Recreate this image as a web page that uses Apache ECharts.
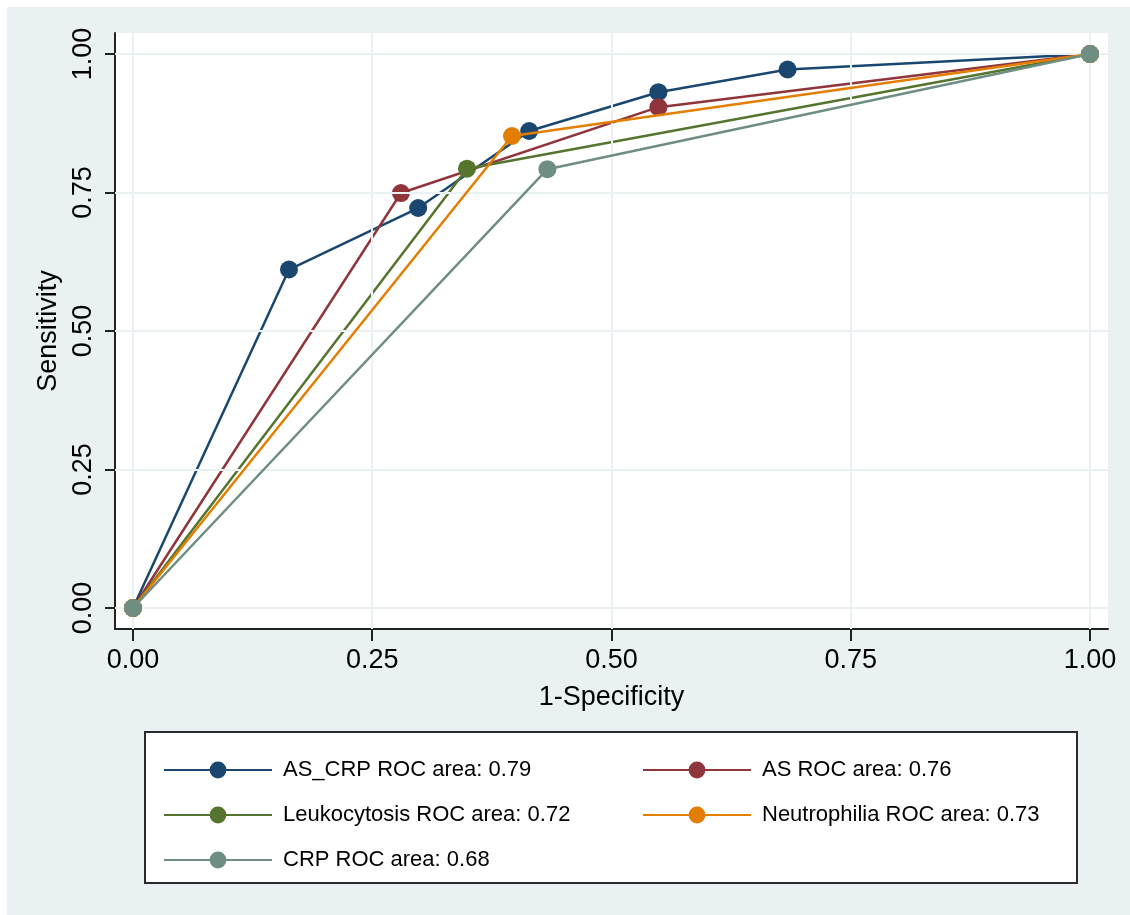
<!DOCTYPE html>
<html>
<head>
<meta charset="utf-8">
<script src="https://cdn.jsdelivr.net/npm/echarts@6/dist/echarts.min.js"></script>
<style>
  html, body { margin: 0; padding: 0; background: #fff; }
  #chart { width: 1130px; height: 915px; }
</style>
</head>
<body>
<div id="chart"></div>
<script>
// ROC curves, values
const tickValues = [0, 0.25, 0.5, 0.75, 1]
const tickLabels = ['0.00', '0.25', '0.50', '0.75', '1.00']

const seriesNames = [
  'AS_CRP ROC area: 0.79',
  'AS ROC area: 0.76',
  'Leukocytosis ROC area: 0.72',
  'Neutrophilia ROC area: 0.73',
  'CRP ROC area: 0.68'
]

const asCrpX = [0, 0.163, 0.298, 0.414, 0.549, 0.684, 1]
const asCrpY = [0, 0.611, 0.722, 0.861, 0.931, 0.972, 1]
const asX = [0, 0.280, 0.549, 1]
const asY = [0, 0.749, 0.904, 1]
const leukX = [0, 0.349, 1]
const leukY = [0, 0.793, 1]
const neutX = [0, 0.396, 1]
const neutY = [0, 0.852, 1]
const crpX = [0, 0.433, 1]
const crpY = [0, 0.792, 1]

// Stata s2color palette
const colors = ['#1A476F', '#90353B', '#55752F', '#E37E00', '#6E8E84']
const bgColor = '#EAF1F3'
const font = '"Liberation Sans", Arial, Helvetica, sans-serif'

const pairs = (xs, ys) => xs.map((x, i) => [x, ys[i]])
const curves = [
  pairs(asCrpX, asCrpY),
  pairs(asX, asY),
  pairs(leukX, leukY),
  pairs(neutX, neutY),
  pairs(crpX, crpY)
]

const fmt = v => {
  const i = tickValues.findIndex(t => Math.abs(t - v) < 1e-9)
  return i >= 0 ? tickLabels[i] : ''
}

const chart = echarts.init(document.getElementById('chart'))

// grid lines at the tick values, drawn under the curves
const gridLineSeries = {
  type: 'line',
  data: [],
  z: 1,
  silent: true,
  markLine: {
    silent: true,
    symbol: 'none',
    label: { show: false },
    lineStyle: { color: bgColor, width: 2, type: 'solid' },
    animation: false,
    data: [
      ...tickValues.map(v => ({ xAxis: v })),
      ...tickValues.map(v => ({ yAxis: v }))
    ]
  }
}

const legendText = { fontSize: 22, lineHeight: 22, color: '#000', fontFamily: font, padding: [0, 0, 0, 6] }

chart.setOption({
  animation: false,
  backgroundColor: '#ffffff',
  textStyle: { fontFamily: font },
  graphic: [
    {
      type: 'rect',
      z: -10,
      shape: { x: 7, y: 7, width: 1123, height: 908 },
      style: { fill: bgColor }
    },
    {
      type: 'rect',
      z: 0,
      shape: { x: 145, y: 732, width: 932, height: 151 },
      style: { fill: '#ffffff', stroke: '#2b2b2b', lineWidth: 2 }
    }
  ],
  grid: {
    left: 115, top: 33, right: 22, bottom: 286,
    show: true, backgroundColor: '#ffffff', borderWidth: 0
  },
  xAxis: {
    type: 'value',
    min: -0.0188,
    max: 1.0188,
    name: '1-Specificity',
    nameLocation: 'middle',
    nameGap: 55,
    nameTextStyle: { fontSize: 27, color: '#000', fontFamily: font },
    axisLine: { show: true, onZero: false, lineStyle: { color: '#222', width: 2 } },
    axisTick: { show: true, customValues: tickValues, length: 12, lineStyle: { color: '#222', width: 2 } },
    axisLabel: { customValues: tickValues, formatter: fmt, fontSize: 27, color: '#000', margin: 18, fontFamily: font },
    splitLine: { show: false }
  },
  yAxis: {
    type: 'value',
    min: -0.0379,
    max: 1.0379,
    name: 'Sensitivity',
    nameLocation: 'middle',
    nameGap: 45,
    nameRotate: 90,
    nameTextStyle: { fontSize: 27, color: '#000', fontFamily: font },
    axisLine: { show: true, onZero: false, lineStyle: { color: '#222', width: 2 } },
    axisTick: { show: true, customValues: tickValues, length: 10, lineStyle: { color: '#222', width: 2 } },
    axisLabel: { customValues: tickValues, formatter: fmt, rotate: 90, fontSize: 27, color: '#000', margin: 18, fontFamily: font },
    splitLine: { show: false }
  },
  legend: [
    {
      left: 158, top: 754, orient: 'vertical',
      itemWidth: 108, itemHeight: 21, itemGap: 23,
      data: [seriesNames[0], seriesNames[2], seriesNames[4]],
      textStyle: legendText,
      selectedMode: false
    },
    {
      left: 637, top: 754, orient: 'vertical',
      itemWidth: 108, itemHeight: 21, itemGap: 23,
      data: [seriesNames[1], seriesNames[3]],
      textStyle: legendText,
      selectedMode: false
    }
  ],
  series: [
    gridLineSeries,
    ...curves.map((data, i) => ({
      name: seriesNames[i],
      type: 'line',
      data: data,
      symbol: 'circle',
      symbolSize: 18,
      showAllSymbol: true,
      z: 2 + i,
      lineStyle: { color: colors[i], width: 2.5 },
      itemStyle: { color: colors[i] }
    }))
  ]
})
</script>
</body>
</html>
